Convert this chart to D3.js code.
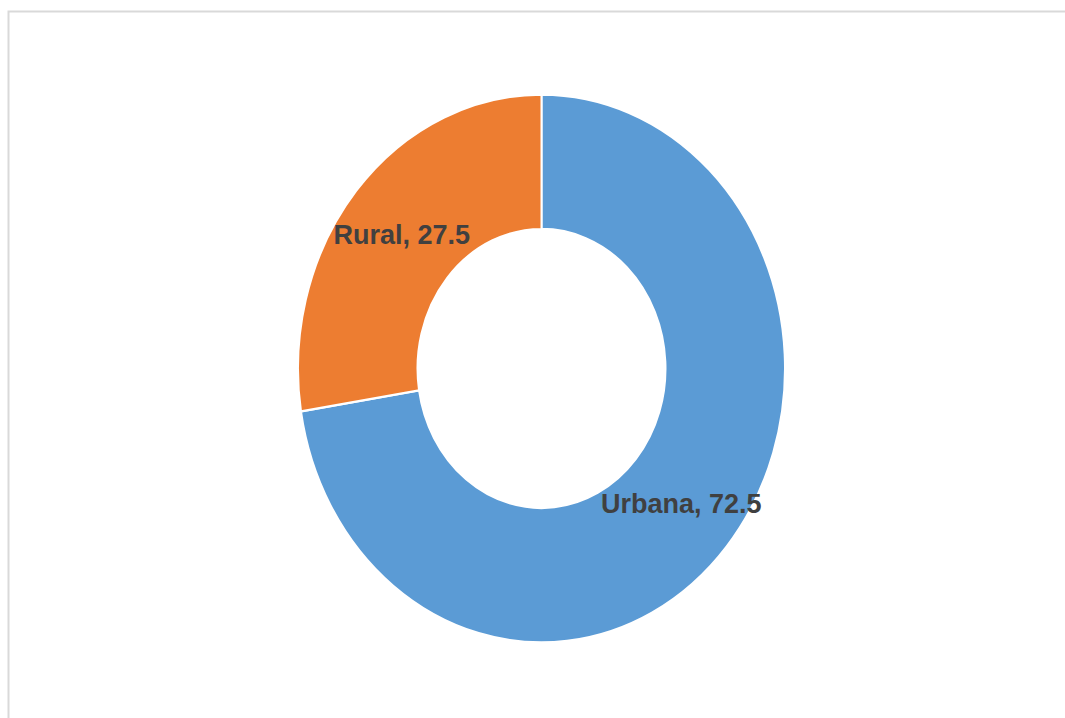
<!DOCTYPE html>
<html>
<head>
<meta charset="utf-8">
<script src="https://cdn.jsdelivr.net/npm/d3@7"></script>
<style>
  html, body { margin: 0; padding: 0; background: #ffffff; }
  svg { display: block; }
</style>
</head>
<body>
<svg id="chart" width="1065" height="718"></svg>
<script>
const categories = ["Urbana", "Rural"];
const values = [72.5, 27.5];
const colors = ["#5B9BD5", "#ED7D31"];

const W = 1065, H = 718;
const svg = d3.select("#chart");

// chart frame
svg.append("path")
  .attr("d", `M8.5,${H + 5} L8.5,11.5 L${W + 5},11.5`)
  .attr("fill", "none")
  .attr("stroke", "#d9d9d9")
  .attr("stroke-width", 2);

const cx = 541.5, cy = 368.5;
const outerR = 243.5, innerR = 124;
const sy = 1.125;

const pie = d3.pie().sort(null).value(d => d.value);
const data = pie(categories.map((c, i) => ({ name: c, value: values[i], color: colors[i] })));

const arc = d3.arc().innerRadius(innerR).outerRadius(outerR);

const g = svg.append("g").attr("transform", `translate(${cx},${cy}) scale(1,${sy})`);
g.selectAll("path.slice")
  .data(data)
  .join("path")
  .attr("class", "slice")
  .attr("d", arc)
  .attr("fill", d => d.data.color)
  .attr("stroke", "#ffffff")
  .attr("stroke-width", 2)
  .attr("stroke-linejoin", "miter");

const labelArc = d3.arc().innerRadius((innerR + outerR) / 2).outerRadius((innerR + outerR) / 2);
svg.selectAll("text.lbl")
  .data(data)
  .join("text")
  .attr("class", "lbl")
  .attr("transform", d => `translate(${cx + labelArc.centroid(d)[0]},${cy + labelArc.centroid(d)[1] * sy + 10}) scale(1,1.05)`)
  .attr("text-anchor", "middle")
  .attr("font-family", "'Liberation Sans', Arial, sans-serif")
  .attr("font-weight", "bold")
  .attr("font-size", 27)
  .attr("fill", "#404040")
  .text(d => `${d.data.name}, ${d.data.value}`);
</script>
</body>
</html>
